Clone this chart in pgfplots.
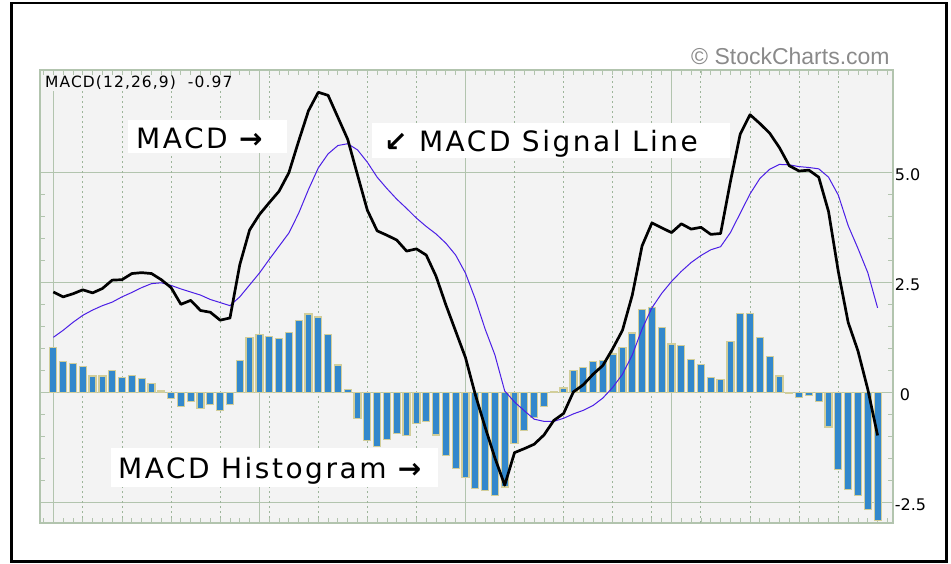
\documentclass[border=0pt]{standalone}
\usepackage{fontspec}
\setmainfont{DejaVu Sans}
\newfontfamily\annfont{DejaVu Sans}[LetterSpace=9]
\newfontfamily\smallfont{DejaVu Sans}[LetterSpace=7]
\newfontfamily\arialfont{Liberation Sans}
\usepackage{pgfplots}
\usepackage{pgfplotstable}
\pgfplotsset{compat=1.18}

\definecolor{framegreen}{HTML}{B2C4AE}
\definecolor{dotgreen}{HTML}{9DB59A}
\definecolor{panel}{HTML}{F3F3F3}
\definecolor{barblue}{HTML}{3388CC}
\definecolor{bartan}{HTML}{D2CE9A}
\definecolor{sigviolet}{HTML}{4B1EE6}
\definecolor{wmgrey}{HTML}{8A8A8A}

% day, MACD, signal, histogram
\pgfplotstableread{
i  m     s     h
0  2.29  1.26  1.03
1  2.18  1.42  0.71
2  2.25  1.60  0.67
3  2.34  1.76  0.60
4  2.27  1.88  0.38
5  2.37  1.98  0.38
6  2.56  2.06  0.51
7  2.57  2.18  0.34
8  2.71  2.28  0.40
9  2.73  2.39  0.33
10 2.71  2.48  0.21
11 2.57  2.50  0.04
12 2.39  2.44  -0.13
13 2.01  2.36  -0.32
14 2.10  2.29  -0.19
15 1.87  2.22  -0.36
16 1.83  2.12  -0.27
17 1.65  2.05  -0.40
18 1.70  1.98  -0.27
19 2.91  2.18  0.73
20 3.70  2.45  1.25
21 4.05  2.72  1.33
22 4.32  3.03  1.28
23 4.58  3.33  1.24
24 5.00  3.63  1.37
25 5.72  4.08  1.64
26 6.41  4.62  1.79
27 6.83  5.11  1.72
28 6.76  5.43  1.33
29 6.26  5.62  0.63
30 5.76  5.66  0.08
31 4.95  5.52  -0.58
32 4.15  5.24  -1.09
33 3.68  4.90  -1.22
34 3.58  4.64  -1.06
35 3.47  4.40  -0.93
36 3.22  4.19  -0.97
37 3.27  3.97  -0.70
38 3.13  3.78  -0.65
39 2.65  3.61  -0.96
40 2.00  3.40  -1.42
41 1.40  3.13  -1.72
42 0.80  2.72  -1.92
43 -0.04 2.13  -2.17
44 -0.78 1.45  -2.22
45 -1.48 0.86  -2.34
46 -2.10 0.04  -2.14
47 -1.36 -0.21 -1.15
48 -1.27 -0.41 -0.86
49 -1.17 -0.60 -0.57
50 -0.96 -0.65 -0.31
51 -0.63 -0.65 0.02
52 -0.47 -0.58 0.11
53 0.02  -0.48 0.50
54 0.18  -0.40 0.58
55 0.42  -0.29 0.71
56 0.62  -0.12 0.74
57 1.00  0.12  0.88
58 1.42  0.42  1.02
59 2.22  0.86  1.36
60 3.34  1.45  1.89
61 3.86  1.93  1.93
62 3.75  2.26  1.49
63 3.64  2.53  1.11
64 3.84  2.76  1.08
65 3.72  2.96  0.76
66 3.76  3.12  0.64
67 3.60  3.25  0.35
68 3.62  3.32  0.30
69 4.80  3.64  1.16
70 5.88  4.08  1.80
71 6.32  4.52  1.80
72 6.12  4.87  1.25
73 5.90  5.08  0.82
74 5.57  5.19  0.38
75 5.16  5.18  -0.02
76 5.04  5.14  -0.10
77 5.06  5.12  -0.06
78 4.90  5.09  -0.19
79 4.12  4.90  -0.78
80 2.75  4.49  -1.74
81 1.60  3.80  -2.20
82 0.95  3.28  -2.33
83 0.08  2.73  -2.65
84 -0.97 1.93  -2.90
}\macddata

\begin{document}
\begin{tikzpicture}
\begin{axis}[
  at={(40pt,40pt)}, anchor=south west,
  width=852.7pt, height=453pt, scale only axis,
  xmin=-1.36, xmax=85.54,
  ymin=-2.96, ymax=7.336,
  axis background/.style={fill=panel},
  axis line style={framegreen, line width=1.8pt},
  xtick={0,21,42,63},
  xticklabels={},
  extra x ticks={3,7,12,17,22,27,32,37,47,52,57,61,66,71,76,80},
  extra x tick labels={},
  extra x tick style={grid=major, major grid style={dotgreen, line width=1pt, dash pattern=on 2pt off 3pt}},
  minor xtick={-1,0,...,85},
  ytick={-2.5,0,2.5,5},
  yticklabels={-2.5,\hspace{5pt}0,2.5,5.0},
  minor y tick num=4,
  yticklabel pos=right,
  yticklabel style={anchor=west, inner sep=0pt, xshift=2pt, yshift=-2pt, font=\fontsize{16}{18}\selectfont},
  grid=major,
  major grid style={framegreen, line width=1.2pt},
  tick align=inside,
  major tick length=5pt, minor tick length=5pt,
  every tick/.style={framegreen, line width=0.9pt},
]
\addplot[ybar, bar width=7pt, fill=barblue, draw=bartan, line width=1.2pt] table[x=i, y=h] {\macddata};
\addplot[sigviolet, line width=1pt] table[x=i, y=s] {\macddata};
\addplot[black, line width=2.7pt, line join=round] table[x=i, y=m] {\macddata};
\end{axis}

% labels
\node[anchor=base west, inner sep=1pt, fill=panel, font={\smallfont\fontsize{15.5}{17}\selectfont}] at (44pt,475.5pt) {MACD(12,26,9)\ \ -0.97};
\node[anchor=base west, inner sep=0pt, text=wmgrey, font={\arialfont\fontsize{23}{25}\selectfont}] at (691pt,498pt) {© StockCharts.com};

\fill[white] (128pt,410pt) rectangle (287pt,443pt);
\node[anchor=base west, inner sep=0pt, font={\annfont\fontsize{28}{30}\selectfont}] at (136pt,414.7pt) {MACD {\bfseries →}};

\fill[white] (372pt,405pt) rectangle (730pt,439.7pt);
\node[anchor=base west, inner sep=0pt, font={\annfont\fontsize{28}{30}\selectfont}] at (384pt,411.3pt) {{\bfseries ↙} MACD Signal Line};

\fill[white] (111pt,76pt) rectangle (438pt,115pt);
\node[anchor=base west, inner sep=0pt, font={\annfont\fontsize{28}{30}\selectfont}] at (118pt,84.7pt) {MACD Histogram {\bfseries →}};

% outer frame
\draw[black, line width=2.6pt] (11.3pt,1.3pt) rectangle (946.5pt,559.8pt);

\pgfresetboundingbox
\path[use as bounding box] (0pt,0pt) rectangle (951pt,563pt);
\end{tikzpicture}
\end{document}
